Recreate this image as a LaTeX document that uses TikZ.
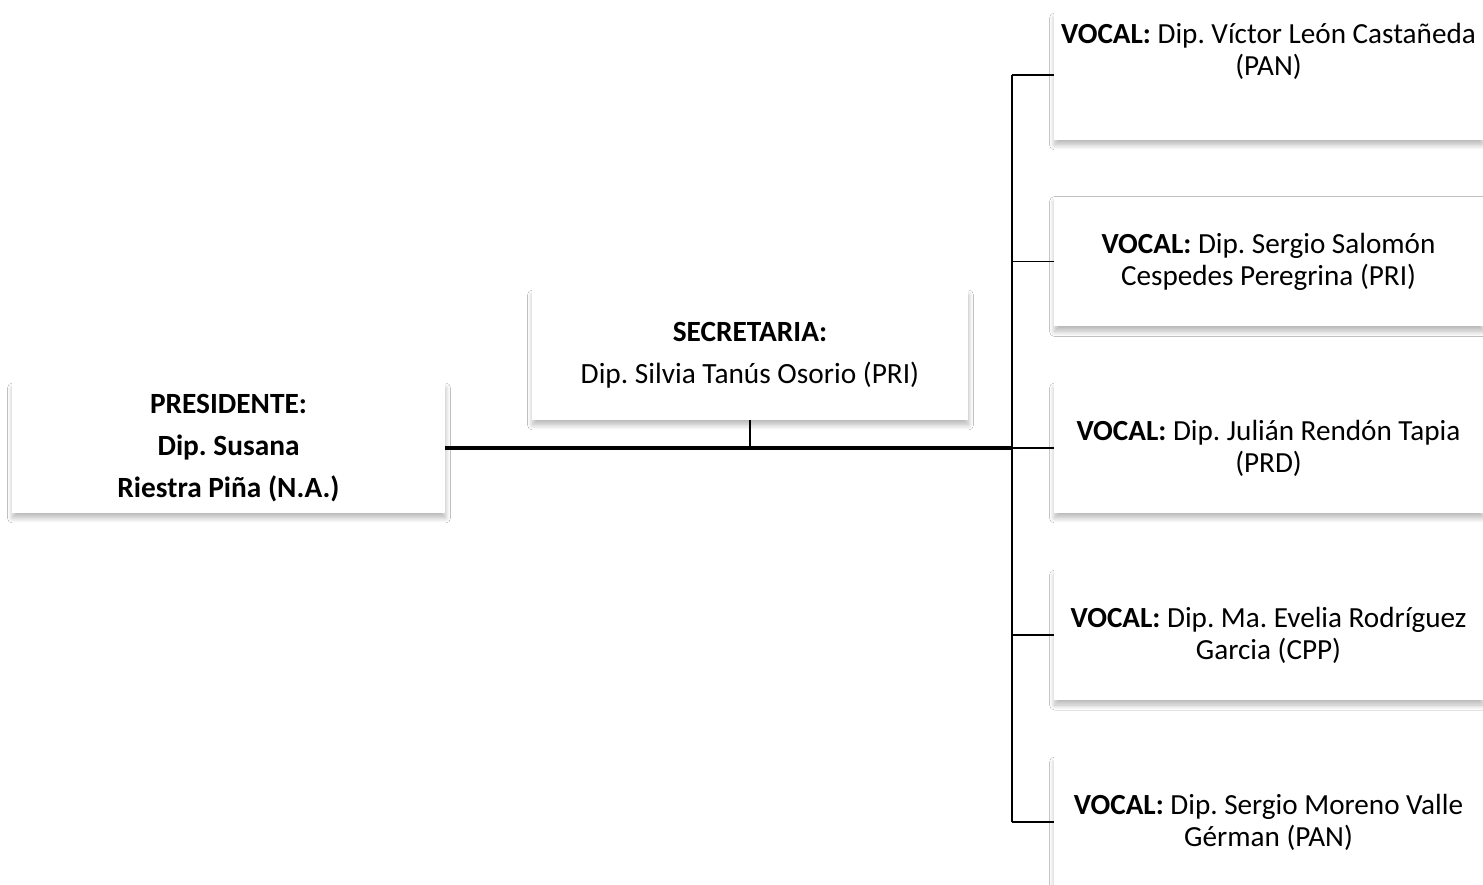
\documentclass[tikz,border=0pt]{standalone}
\usepackage{fontspec}
\setmainfont{Carlito}
\usetikzlibrary{shadows.blur}
\begin{document}
\frenchspacing
\begin{tikzpicture}[x=0.02cm,y=-0.02cm,
  box/.style={fill=white, inner sep=0pt, align=center,
    blur shadow={shadow xshift=0.1mm, shadow yshift=-1.0mm, shadow blur steps=12, shadow opacity=28, shadow blur radius=1.0mm}},
  bigtext/.style={font=\fontsize{16.7}{24}\selectfont},
  vtext/.style={align=center, inner sep=0pt, font=\fontsize{16.6}{18.3}\selectfont},
  pbox/.style={box, bigtext, minimum width=8.66cm, minimum height=2.6cm},
  sbox/.style={box, bigtext, minimum width=8.72cm, minimum height=2.6cm},
  vbox/.style={box, vtext, minimum width=8.58cm, minimum height=2.6cm},
  thickline/.style={line width=2.1pt},
  thinline/.style={line width=1pt}]
\useasboundingbox (0,0) rectangle (1483,885);
\clip (0,0) rectangle (1483,885);
\fill[white] (0,0) rectangle (1483,885);

\node[pbox] (pres) at (228.5,448) {\textbf{PRESIDENTE:}\\ \textbf{Dip. Susana}\\ \textbf{Riestra Piña (N.A.)}};
\node[sbox] (sec) at (750,355) {\textbf{SECRETARIA:}\\ Dip. Silvia Tanús Osorio (PRI)};

\node[box, minimum width=8.58cm, minimum height=2.54cm] (v1) at (1268.5,76.5) {};
\node[vtext] (t1) at (1268.5,51) {\textbf{VOCAL:} Dip. Víctor León Castañeda\\ (PAN)};
\node[vbox] (v2) at (1268.5,261.5) {\textbf{VOCAL:} Dip. Sergio Salomón\\ Cespedes Peregrina (PRI)};
\node[vbox] (v3) at (1268.5,448) {\textbf{VOCAL:} Dip. Julián Rendón Tapia\\ (PRD)};
\node[vbox] (v4) at (1268.5,635) {\textbf{VOCAL:} Dip. Ma. Evelia Rodríguez\\ Garcia (CPP)};
\node[vbox] (v5) at (1268.5,822) {\textbf{VOCAL:} Dip. Sergio Moreno Valle\\ Gérman (PAN)};

\coordinate (spinetop) at (1012,75);
\coordinate (spinemid) at (1012,448);
\coordinate (spinebot) at (1012,822);
\coordinate (secfoot) at (750,448);

\draw[thickline] (pres.east) -- (spinemid);
\draw[thinline] (sec.south) -- (secfoot);
\draw[thinline] (spinetop) -- (spinebot);
\draw[thinline] (spinetop) -- (v1.west |- spinetop);
\draw[thinline] (v2.west -| spinetop) -- (v2.west);
\draw[thinline] (spinemid) -- (v3.west);
\draw[thinline] (v4.west -| spinetop) -- (v4.west);
\draw[thinline] (spinebot) -- (v5.west);
\end{tikzpicture}
\end{document}
